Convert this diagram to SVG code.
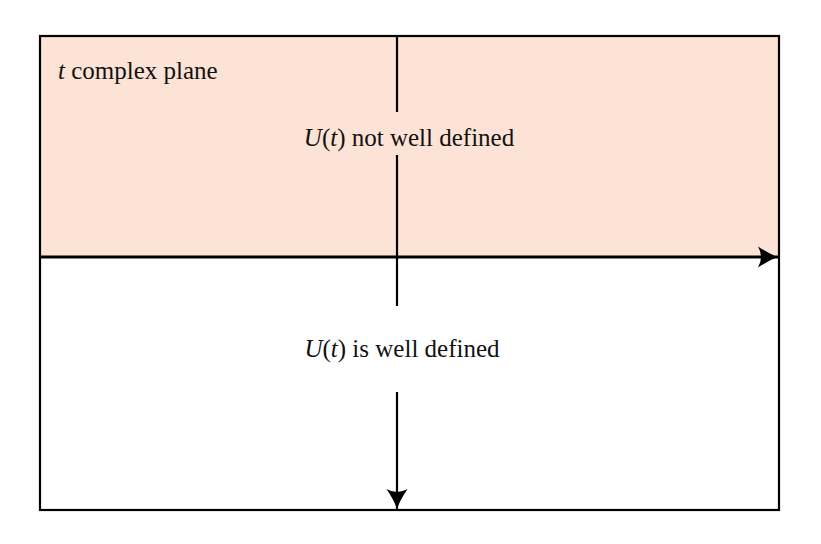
<svg xmlns="http://www.w3.org/2000/svg" width="821" height="544" viewBox="0 0 821 544">
<style>
text{font-family:'Liberation Serif','DejaVu Serif',serif;font-size:25px;fill:#111}
.it{font-style:italic}
.ax{stroke:#000;fill:none}
</style>
<defs>
<marker id="ah" markerUnits="userSpaceOnUse" markerWidth="24" markerHeight="24" viewBox="-21 -12 24 24" refX="0" refY="0" orient="auto">
<path d="M0,0 Q-9,-3 -20,-10.5 Q-14,0 -20,10.5 Q-9,3 0,0 Z" fill="#000"/>
</marker>
</defs>
<rect width="821" height="544" fill="#fff"/>
<g id="upper-region">
<rect x="40" y="36" width="739" height="221" fill="#fde3d5"/>
</g>
<g id="frame">
<rect x="40" y="36" width="739" height="474" fill="none" stroke="#000" stroke-width="2.2"/>
</g>
<g id="connectors">
<line class="ax" x1="40" y1="257" x2="778" y2="257" stroke-width="3" marker-end="url(#ah)"/>
<line class="ax" x1="397" y1="36" x2="397" y2="112" stroke-width="2.2"/>
<line class="ax" x1="397" y1="155" x2="397" y2="306" stroke-width="2.2"/>
<line class="ax" x1="397" y1="392" x2="397" y2="509" stroke-width="2.2" marker-end="url(#ah)"/>
</g>
<g id="label-plane">
<text x="58" y="79" font-family="Liberation Serif, serif"><tspan class="it">t</tspan> complex plane</text>
</g>
<g id="label-not-defined">
<text x="409" y="146" text-anchor="middle" font-family="Liberation Serif, serif"><tspan class="it">U</tspan>(<tspan class="it">t</tspan>) not well defined</text>
</g>
<g id="label-defined">
<text x="402" y="357" text-anchor="middle" font-family="Liberation Serif, serif"><tspan class="it">U</tspan>(<tspan class="it">t</tspan>) is well defined</text>
</g>
</svg>
